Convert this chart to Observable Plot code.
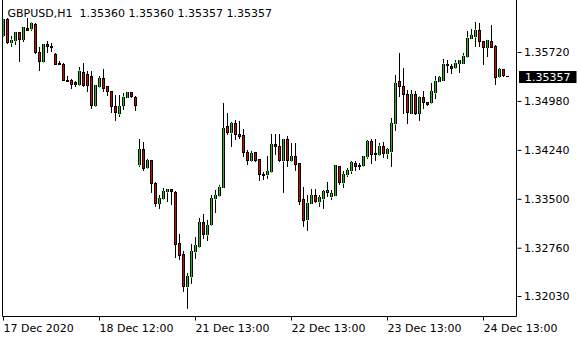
<!DOCTYPE html>
<html>
<head>
<meta charset="utf-8">
<script src="https://cdn.jsdelivr.net/npm/d3@7"></script>
<script src="https://cdn.jsdelivr.net/npm/@observablehq/plot@0.6"></script>
<style>
  html, body { margin: 0; padding: 0; background: white; }
  svg { display: block; }
</style>
</head>
<body>
<script>
// GBPUSD H1 candles (index 0 = 17 Dec 2020)
const open = [
1.35970, 1.36212, 1.35864, 1.35894, 1.36015, 1.35924, 1.36076, 1.36076, 1.36151, 1.35713,
1.35577, 1.35834, 1.35818, 1.35697, 1.35561, 1.35546, 1.35294, 1.35304, 1.35259, 1.35229,
1.35425, 1.35380, 1.35350, 1.34911, 1.35199, 1.35320, 1.35199, 1.35123, 1.34896, 1.34790,
1.34926, 1.35047, 1.35108, 1.35047, 1.34019, 1.34246, 1.33974, 1.34080, 1.33732, 1.33444,
1.33505, 1.33611, 1.33641, 1.33596, 1.32825, 1.32658, 1.32175, 1.32326, 1.32704, 1.32779,
1.33142, 1.32961, 1.33112, 1.33505, 1.33550, 1.33686, 1.34594, 1.34503, 1.34639, 1.34473,
1.34458, 1.34201, 1.34080, 1.34201, 1.34095, 1.33868, 1.33868, 1.33913, 1.34322, 1.34306,
1.34080, 1.34397, 1.34080, 1.34140, 1.34034, 1.33490, 1.33188, 1.33444, 1.33550, 1.33460,
1.33505, 1.33596, 1.33535, 1.33565, 1.33989, 1.33747, 1.33868, 1.33929, 1.34034, 1.33989,
1.34004, 1.34140, 1.34367, 1.34170, 1.34170, 1.34306, 1.34186, 1.34216, 1.34639, 1.35274,
1.35199, 1.35078, 1.34805, 1.35078, 1.34805, 1.35047, 1.34957, 1.34957, 1.35108, 1.35289,
1.35304, 1.35546, 1.35501, 1.35486, 1.35561, 1.35561, 1.35652, 1.35939, 1.35955, 1.36060,
1.35879, 1.35803, 1.35879, 1.35818, 1.35350, 1.35456, 1.35360
];
const high = [
1.36227, 1.36242, 1.35970, 1.36015, 1.36030, 1.36106, 1.36242, 1.36181, 1.36166, 1.35803,
1.35849, 1.35894, 1.35864, 1.35713, 1.35592, 1.35561, 1.35365, 1.35320, 1.35289, 1.35501,
1.35561, 1.35440, 1.35440, 1.35229, 1.35365, 1.35471, 1.35214, 1.35138, 1.35078, 1.35078,
1.35108, 1.35123, 1.35123, 1.35062, 1.34412, 1.34367, 1.34110, 1.34095, 1.33762, 1.33565,
1.33671, 1.33641, 1.33641, 1.33626, 1.32976, 1.32719, 1.32386, 1.32825, 1.32930, 1.33218,
1.33278, 1.33188, 1.33565, 1.33641, 1.33717, 1.34957, 1.34805, 1.34670, 1.34700, 1.34685,
1.34564, 1.34246, 1.34231, 1.34216, 1.34110, 1.33913, 1.34155, 1.34488, 1.34488, 1.34488,
1.34412, 1.34458, 1.34352, 1.34352, 1.34049, 1.33686, 1.33565, 1.33656, 1.33656, 1.33565,
1.33641, 1.33762, 1.33641, 1.34019, 1.34004, 1.33929, 1.33974, 1.34080, 1.34080, 1.34049,
1.34155, 1.34397, 1.34412, 1.34412, 1.34352, 1.34367, 1.34276, 1.34730, 1.35380, 1.35713,
1.35486, 1.35153, 1.35153, 1.35138, 1.35062, 1.35138, 1.34972, 1.35259, 1.35365, 1.35365,
1.35622, 1.35607, 1.35546, 1.35607, 1.35600, 1.35713, 1.36045, 1.36076, 1.36181, 1.36166,
1.35894, 1.35909, 1.36136, 1.35834, 1.35486, 1.35471, 1.35360
];
const low = [
1.35955, 1.35849, 1.35803, 1.35834, 1.35577, 1.35879, 1.36045, 1.36045, 1.35697, 1.35440,
1.35561, 1.35713, 1.35728, 1.35531, 1.35531, 1.35289, 1.35274, 1.35168, 1.35199, 1.35214,
1.35199, 1.35123, 1.34866, 1.34896, 1.35183, 1.35123, 1.35062, 1.34805, 1.34685, 1.34745,
1.34851, 1.35032, 1.35032, 1.34836, 1.33989, 1.33929, 1.33959, 1.33596, 1.33384, 1.33354,
1.33490, 1.33460, 1.33414, 1.32613, 1.32583, 1.32100, 1.31842, 1.32220, 1.32598, 1.32764,
1.32900, 1.32870, 1.33097, 1.33293, 1.33535, 1.33671, 1.34473, 1.34291, 1.34397, 1.34412,
1.34140, 1.34019, 1.34065, 1.34065, 1.33777, 1.33792, 1.33808, 1.33898, 1.34170, 1.34065,
1.33596, 1.33989, 1.34065, 1.33929, 1.33414, 1.33082, 1.33021, 1.33429, 1.33444, 1.33384,
1.33354, 1.33535, 1.33490, 1.33565, 1.33717, 1.33671, 1.33838, 1.33883, 1.33929, 1.33944,
1.33989, 1.34110, 1.34034, 1.34080, 1.34155, 1.34125, 1.34110, 1.33989, 1.34533, 1.35047,
1.34790, 1.34639, 1.34790, 1.34775, 1.34685, 1.34866, 1.34911, 1.34941, 1.35017, 1.35274,
1.35289, 1.35410, 1.35395, 1.35471, 1.35410, 1.35550, 1.35637, 1.35924, 1.35803, 1.35803,
1.35531, 1.35652, 1.35795, 1.35229, 1.35335, 1.35350, 1.35357
];
const close = [
1.36212, 1.35864, 1.35909, 1.36015, 1.35924, 1.36091, 1.36060, 1.36166, 1.35713, 1.35577,
1.35834, 1.35818, 1.35803, 1.35546, 1.35546, 1.35294, 1.35289, 1.35229, 1.35229, 1.35440,
1.35214, 1.35214, 1.34911, 1.35214, 1.35320, 1.35183, 1.35123, 1.34896, 1.34820, 1.34896,
1.35047, 1.35108, 1.35062, 1.34911, 1.34246, 1.33959, 1.34080, 1.33732, 1.33444, 1.33505,
1.33611, 1.33641, 1.33611, 1.32810, 1.32643, 1.32175, 1.32326, 1.32704, 1.32795, 1.33142,
1.32961, 1.33097, 1.33505, 1.33550, 1.33686, 1.34564, 1.34503, 1.34639, 1.34473, 1.34443,
1.34201, 1.34080, 1.34186, 1.34080, 1.33868, 1.33853, 1.33913, 1.34322, 1.34291, 1.34080,
1.34397, 1.34080, 1.34140, 1.34019, 1.33460, 1.33172, 1.33444, 1.33550, 1.33460, 1.33520,
1.33611, 1.33626, 1.33581, 1.34004, 1.33747, 1.33868, 1.33929, 1.34049, 1.33989, 1.34004,
1.34140, 1.34367, 1.34170, 1.34186, 1.34306, 1.34186, 1.34246, 1.34639, 1.35244, 1.35199,
1.35078, 1.34820, 1.35078, 1.34805, 1.35047, 1.34957, 1.34941, 1.35123, 1.35289, 1.35335,
1.35546, 1.35516, 1.35471, 1.35561, 1.35592, 1.35667, 1.35939, 1.35970, 1.36060, 1.35879,
1.35803, 1.35894, 1.35803, 1.35335, 1.35456, 1.35365, 1.35357
];

const xTickIndex = [0, 24, 48, 72, 96, 120];
const xTickLabels = ["17 Dec 2020", "18 Dec 12:00", "21 Dec 13:00", "22 Dec 13:00", "23 Dec 13:00", "24 Dec 13:00"];
const yTicks = [1.35720, 1.34980, 1.34240, 1.33500, 1.32760, 1.32030];
const titleText = "GBPUSD,H1\u00a0\u00a01.35360 1.35360 1.35357 1.35357";

const xDomain = [-0.25, 128.25];
const yDomain = [1.317276, 1.36514];
const upColor = "#00d000";
const downColor = "#e00000";

const candles = open.map((o, i) => ({i, open: o, high: high[i], low: low[i], close: close[i]}));
const upCandles = candles.filter(d => d.close >= d.open);
const downCandles = candles.filter(d => d.close < d.open);
const tallUp = upCandles.filter(d => d.close - d.open > 0.0003);
const tallDown = downCandles.filter(d => d.open - d.close > 0.0003);
const lastClose = close[close.length - 1];
const priceFmt = d3.format(".5f");

const bodyFill = {x1: d => d.i - 0.375, x2: d => d.i + 0.375, y1: "open", y2: "close"};
const edge = {stroke: "black", strokeWidth: 1, shapeRendering: "crispEdges"};
const core = {x: "i", y1: "open", y2: "close", dx: -0.5, insetTop: 1, insetBottom: 1, strokeWidth: 1, shapeRendering: "crispEdges"};

const chart = Plot.plot({
  width: 580,
  height: 340,
  marginLeft: 2.5,
  marginRight: 63.5,
  marginTop: 0,
  marginBottom: 23.5,
  style: {fontFamily: "'DejaVu Sans', sans-serif", fontSize: "11px", background: "white", color: "black", overflow: "visible"},
  x: {type: "linear", domain: xDomain, axis: null, label: null},
  y: {type: "linear", domain: yDomain, axis: null, label: null},
  marks: [
    Plot.ruleX(xDomain, {stroke: "black", dx: -0.5}),
    Plot.ruleY([yDomain[0]], {stroke: "black", dy: -0.5}),
    Plot.axisY(yTicks, {anchor: "right", label: null, tickSize: 4, tickPadding: 3, tickFormat: priceFmt, dy: -0.5}),
    Plot.axisX(xTickIndex, {anchor: "bottom", label: null, tickSize: 4, tickPadding: 3, textAnchor: "start", dx: -0.5,
      tickFormat: d => xTickLabels[xTickIndex.indexOf(d)]}),
    // wicks
    Plot.ruleX(candles, {x: "i", y1: "low", y2: "high", stroke: "black", strokeWidth: 1, dx: -0.5}),
    // body background colour
    Plot.rect(upCandles, {...bodyFill, fill: upColor}),
    Plot.rect(downCandles, {...bodyFill, fill: downColor}),
    // body outline
    Plot.ruleX(candles, {x: d => d.i - 0.25, y1: "open", y2: "close", dx: -0.5, ...edge}),
    Plot.ruleX(candles, {x: d => d.i + 0.25, y1: "open", y2: "close", dx: -0.5, ...edge}),
    Plot.ruleY(candles, {y: "open", x1: d => d.i - 0.375, x2: d => d.i + 0.375, dy: -0.5, ...edge}),
    Plot.ruleY(candles, {y: "close", x1: d => d.i - 0.375, x2: d => d.i + 0.375, dy: -0.5, ...edge}),
    // coloured core line inside the outline
    Plot.ruleX(tallUp, {...core, stroke: upColor}),
    Plot.ruleX(tallDown, {...core, stroke: downColor}),
    Plot.text([titleText], {frameAnchor: "top-left", dx: 4.5, dy: 9, lineAnchor: "top", textAnchor: "start", fill: "black"}),
    Plot.text([lastClose], {y: d => d, text: priceFmt, frameAnchor: "right", dx: 8, textAnchor: "start", fill: "white"})
  ]
});
document.body.append(chart);

// black box behind the current price label
const label = priceFmt(lastClose);
const priceText = Array.from(chart.querySelectorAll("text")).find(t => t.textContent === label && t.closest("g") && t.closest("g").getAttribute("fill") === "white");
if (priceText) {
  const bb = priceText.getBBox();
  const r = document.createElementNS("http://www.w3.org/2000/svg", "rect");
  r.setAttribute("x", bb.x - 6);
  r.setAttribute("y", bb.y + 0.5);
  r.setAttribute("width", bb.width + 12);
  r.setAttribute("height", Math.max(12, bb.height - 1));
  r.setAttribute("fill", "black");
  const tr = priceText.getAttribute("transform");
  if (tr) r.setAttribute("transform", tr);
  priceText.parentNode.insertBefore(r, priceText);
}
</script>
</body>
</html>
